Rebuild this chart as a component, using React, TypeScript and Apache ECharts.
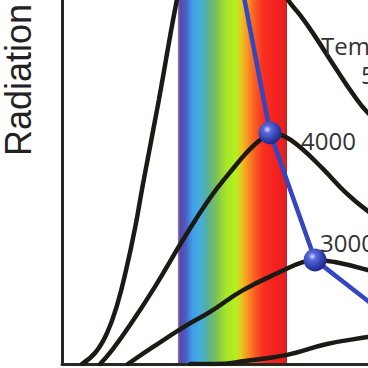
import React, { useEffect, useRef } from "react";
import * as echarts from "echarts";

// wavelength (nm) and relative radiation intensity
const WAVELENGTH_RANGE = [75, 925];
const INTENSITY_RANGE = [0, 100];
const VISIBLE_BAND = [397, 700];

const CURVE_HOT = [[131, 0], [169, 3.3], [200, 8.5], [228, 16.2], [253, 25.8], [278, 37.4], [300, 49.5], [344, 72.5], [394, 100], [419, 110.4], [472, 115.9], [547, 118.1], [611, 114.3], [658, 107.7], [703, 100], [736, 95.9], [772, 90.9], [833, 81.6], [881, 74.5], [925, 69.0], [1014, 61.5]];
const CURVE_4000 = [[181, 0], [214, 3.8], [264, 10.7], [333, 21.2], [414, 34.6], [486, 45.6], [542, 52.7], [592, 58.5], [625, 61.5], [653, 63.5], [692, 62.6], [736, 59.6], [800, 53.6], [861, 47.3], [925, 42.0], [1014, 36.3]];
const CURVE_3000 = [[258, 0], [328, 4.7], [414, 10.2], [486, 14.3], [578, 20.3], [692, 25.8], [736, 27.7], [778, 28.6], [833, 28.0], [925, 25.8], [1014, 23.1]];
const CURVE_COOL = [[431, 0], [500, 0], [583, 0.8], [700, 2.5], [811, 5.5], [925, 7.4], [1014, 8.8]];
const WIEN_LINE = [[547, 118.1], [653, 63.5], [778, 28.6], [925, 17.3], [1014, 10.4]];
const PEAKS = [[653, 63.5], [778, 28.6]];

const CURVES = [CURVE_HOT, CURVE_4000, CURVE_3000, CURVE_COOL];

export default function App() {
  const ref = useRef<HTMLDivElement>(null);
  useEffect(() => {
    if (!ref.current) return;
    const chart = echarts.init(ref.current, null, { renderer: "svg" });
    const spectrum = new echarts.graphic.LinearGradient(0, 0, 1, 0, [
      { offset: 0, color: "#8a7cc0" },
      { offset: 0.02, color: "#5e48a0" },
      { offset: 0.07, color: "#4a5cc4" },
      { offset: 0.13, color: "#3f9de8" },
      { offset: 0.2, color: "#46aee0" },
      { offset: 0.27, color: "#55b09c" },
      { offset: 0.35, color: "#7cc058" },
      { offset: 0.44, color: "#a6e628" },
      { offset: 0.53, color: "#b2f020" },
      { offset: 0.58, color: "#e8c820" },
      { offset: 0.63, color: "#f89a22" },
      { offset: 0.7, color: "#f86022" },
      { offset: 0.78, color: "#f83020" },
      { offset: 0.9, color: "#f42020" },
      { offset: 0.97, color: "#e82020" },
      { offset: 1, color: "#c82020" },
    ]);
    const sphere = new echarts.graphic.RadialGradient(0.38, 0.35, 0.65, [
      { offset: 0, color: "#d8defc" },
      { offset: 0.25, color: "#5a6ad8" },
      { offset: 0.7, color: "#2f3fb0" },
      { offset: 1, color: "#1f2a88" },
    ]);
    const lineColor = "#1c1a14";
    const textStyle = (text: string, x: number, y: number) => ({
      type: "text",
      x,
      y,
      z: 10,
      style: {
        text,
        fill: "#333333",
        font: "24px 'Open Sans'",
        align: "left",
        verticalAlign: "middle",
      },
    });
    chart.setOption({
      animation: false,
      backgroundColor: "#ffffff",
      grid: { left: 62, right: 0, top: 0, bottom: 4, containLabel: false },
      xAxis: {
        type: "value",
        min: WAVELENGTH_RANGE[0],
        max: WAVELENGTH_RANGE[1],
        axisLine: { show: true, lineStyle: { color: "#2a2620", width: 3 } },
        axisTick: { show: false },
        axisLabel: { show: false },
        splitLine: { show: false },
      },
      yAxis: {
        type: "value",
        min: INTENSITY_RANGE[0],
        max: INTENSITY_RANGE[1],
        axisLine: { show: true, lineStyle: { color: "#2a2620", width: 3 } },
        axisTick: { show: false },
        axisLabel: { show: false },
        splitLine: { show: false },
      },
      series: [
        {
          type: "custom",
          z: 1,
          silent: true,
          data: [VISIBLE_BAND],
          renderItem: (params: any, api: any) => {
            const p0 = api.coord([api.value(0), INTENSITY_RANGE[1]]);
            const p1 = api.coord([api.value(1), INTENSITY_RANGE[0]]);
            return {
              type: "rect",
              shape: { x: p0[0], y: p0[1], width: p1[0] - p0[0], height: p1[1] - p0[1] - 1 },
              style: { fill: spectrum },
            };
          },
        },
        ...CURVES.map((c) => ({
          type: "line",
          z: 3,
          data: c,
          showSymbol: false,
          smooth: 0.45,
          clip: true,
          silent: true,
          lineStyle: { color: lineColor, width: 4.5, cap: "round" },
        })),
        {
          type: "line",
          z: 4,
          data: WIEN_LINE,
          showSymbol: false,
          clip: true,
          silent: true,
          lineStyle: { color: "#3446c0", width: 4.5 },
        },
        {
          type: "scatter",
          z: 5,
          data: PEAKS,
          symbol: "circle",
          symbolSize: 23,
          silent: true,
          itemStyle: { color: sphere, opacity: 1 },
        },
      ],
      graphic: [
        {
          type: "text",
          x: 18.5,
          y: 156,
          rotation: Math.PI / 2,
          z: 10,
          style: {
            text: "Radiation",
            fill: "#222222",
            font: "36px 'Liberation Sans', Arial, sans-serif",
            align: "left",
            verticalAlign: "middle",
          },
        },
        textStyle("Temperature", 321, 45.5),
        textStyle("5000", 361, 74),
        textStyle("4000", 301, 140.5),
        textStyle("3000", 320, 242),
      ],
    });
    return () => chart.dispose();
  }, []);
  return (
    <div
      ref={ref}
      style={{ position: "fixed", left: 0, top: 0, width: 368, height: 368, background: "#fff" }}
    />
  );
}
